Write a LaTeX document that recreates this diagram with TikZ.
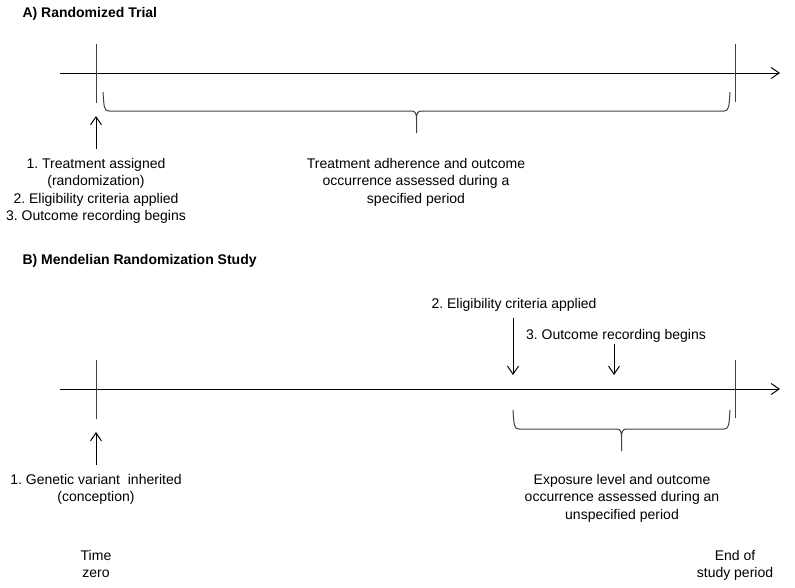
\documentclass[tikz,border=0pt]{standalone}
\usepackage{fontspec}
\setmainfont{Liberation Sans}
\usetikzlibrary{arrows.meta, positioning, calc}
\frenchspacing

% curly bracket below a timeline: left x, right x, top y, tip name
\newcommand{\periodbrace}[4]{%
  \pgfmathsetmacro{\bmid}{(#1+#2)/2}
  \draw[period] (#1,#3) .. controls (#1+1,#3+15) and (#1+1,#3+19) .. (#1+6,#3+19)
    -- (\bmid-5,#3+19) .. controls (\bmid-1,#3+19) and (\bmid,#3+22) .. (\bmid,#3+27)
    -- (\bmid,#3+41) coordinate (#4) -- (\bmid,#3+27)
    .. controls (\bmid,#3+22) and (\bmid+1,#3+19) .. (\bmid+5,#3+19)
    -- (#2-6,#3+19) .. controls (#2-1,#3+19) and (#2-1,#3+15) .. (#2,#3);
}

\begin{document}
\begin{tikzpicture}[
    x=1pt, y=-1pt,
    >={Straight Barb[length=8pt,width=11pt]},
    line width=1pt,
    lbl/.style={font=\fontsize{14}{17.2}\selectfont, align=center,
                inner sep=0pt, anchor=north},
    head/.style={font=\fontsize{14}{17}\selectfont\bfseries,
                 inner sep=0pt, anchor=base west},
    tick/.style={line width=1pt, black!75},
    period/.style={line width=1pt, black!75}
  ]
  \useasboundingbox (0,0) rectangle (795,587);

  % Panel A: randomized trial
  \node[head] (headA) at (22,17.5) {A) Randomized Trial};
  \coordinate (axA0) at (60,73);
  \coordinate (axA1) at (780,73);
  \draw[->] (axA0) -- (axA1);

  \node[lbl] (trtA) at (96,158) {1. Treatment assigned\\(randomization)\\
    2. Eligibility criteria applied\\3. Outcome recording begins};
  \coordinate (t0A) at (96,116);
  \draw[->, shorten <=9pt] (trtA.north) -- (t0A);

  \periodbrace{103}{730}{92}{tipA}
  \node[lbl] (adhA) at (416,158) {Treatment adherence and outcome\\
    occurrence assessed during a\\specified period};

  % Panel B: Mendelian randomization
  \node[head] (headB) at (22,264) {B) Mendelian Randomization Study};
  \coordinate (axB0) at (60,389);
  \coordinate (axB1) at (780,389);
  \draw[->] (axB0) -- (axB1);

  \node[lbl] (eligB) at (514,298) {2. Eligibility criteria applied};
  \node[lbl] (outB) at (616,329) {3. Outcome recording begins};
  \coordinate (eligMk) at (513,375);
  \coordinate (outMk) at (614,375);
  \draw[->, shorten <=6pt] (eligB.south -| eligMk) -- (eligMk);
  \draw[->, shorten <=1pt] (outB.south -| outMk) -- (outMk);

  \node[lbl] (genB) at (96,474) {1. Genetic variant\ \ inherited\\(conception)};
  \coordinate (t0B) at (96,432);
  \draw[->, shorten <=9pt] (genB.north) -- (t0B);

  \periodbrace{513}{730}{410}{tipB}
  \node[lbl] (expB) at (622,474) {Exposure level and outcome\\
    occurrence assessed during an\\unspecified period};

  % start and end marks on both timelines
  \foreach \ly in {73,389} {
    \draw[tick] (96,\ly-29) -- (96,\ly+30);
    \draw[tick] (735,\ly-29) -- (735,\ly+29);
  }
  \node[lbl] (zeroLbl) at (96,550) {Time\\zero};
  \node[lbl] (endLbl) at (735,550) {End of\\study period};
\end{tikzpicture}
\end{document}
